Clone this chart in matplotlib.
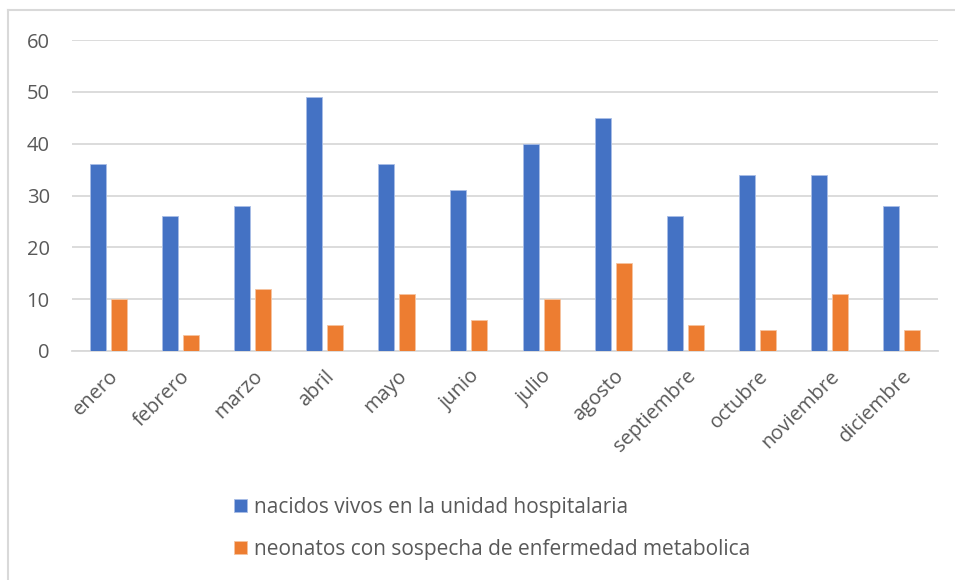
import matplotlib
matplotlib.use("Agg")
import matplotlib.pyplot as plt
import numpy as np
from matplotlib.lines import Line2D

months = ["enero", "febrero", "marzo", "abril", "mayo", "junio", "julio",
          "agosto", "septiembre", "octubre", "noviembre", "diciembre"]
nacidos_vivos = [36, 26, 28, 49, 36, 31, 40, 45, 26, 34, 34, 28]
neonatos_sospecha = [10, 3, 12, 5, 11, 6, 10, 17, 5, 4, 11, 4]
series_labels = ["nacidos vivos en la unidad hospitalaria",
                 "neonatos con sospecha de enfermedad metabolica"]
y_ticks = [0, 10, 20, 30, 40, 50, 60]

BLUE = "#4472C4"
ORANGE = "#ED7D31"
TEXT = "#595959"
GRID = "#D9D9D9"

plt.rcParams["font.family"] = ["Open Sans", "DejaVu Sans"]

fig = plt.figure(figsize=(9.55, 5.8), dpi=100)
ax = fig.add_axes([72 / 955, 1 - 351 / 580, 866 / 955, 311 / 580])

x = np.arange(len(months))
w = 0.222
off = 0.146
ax.bar(x - off, nacidos_vivos, width=w, color=BLUE, edgecolor="#a9bde6",
       linewidth=0.6, label=series_labels[0], zorder=3)
ax.bar(x + off, neonatos_sospecha, width=w, color=ORANGE, edgecolor="#f6c4a0",
       linewidth=0.6, label=series_labels[1], zorder=3)

ax.set_xlim(-0.5, len(months) - 0.5)
ax.set_ylim(0, 60)
ax.set_yticks(y_ticks)
ax.set_yticklabels([str(v) for v in y_ticks], fontsize=14.5, color=TEXT)
ax.yaxis.grid(True, color=GRID, linewidth=1.3, zorder=0)
ax.set_axisbelow(True)
ax.set_xticks(x)
ax.set_xticklabels(months, rotation=45, ha="right", rotation_mode="anchor",
                   fontsize=14.5, color=TEXT)
ax.tick_params(axis="both", length=0)
ax.tick_params(axis="y", pad=16)
ax.tick_params(axis="x", pad=11)
for s in ["top", "right", "left"]:
    ax.spines[s].set_visible(False)
ax.spines["bottom"].set_color(GRID)
ax.spines["bottom"].set_linewidth(1.3)

leg = fig.legend(loc="upper left", bbox_to_anchor=(234 / 955, 1 - 497 / 580),
                 frameon=False, fontsize=15, labelcolor=TEXT,
                 handlelength=0.6, handleheight=0.6, handletextpad=0.35,
                 labelspacing=1.0, borderaxespad=0, borderpad=0)

# chart area outline (left and top edges)
fig.add_artist(Line2D([8 / 955, 8 / 955], [0, 1 - 10 / 580],
                      transform=fig.transFigure, color=GRID, linewidth=1.5))
fig.add_artist(Line2D([8 / 955, 1], [1 - 10 / 580, 1 - 10 / 580],
                      transform=fig.transFigure, color=GRID, linewidth=1.5))

fig.savefig("out.png", dpi=100, facecolor="white")
